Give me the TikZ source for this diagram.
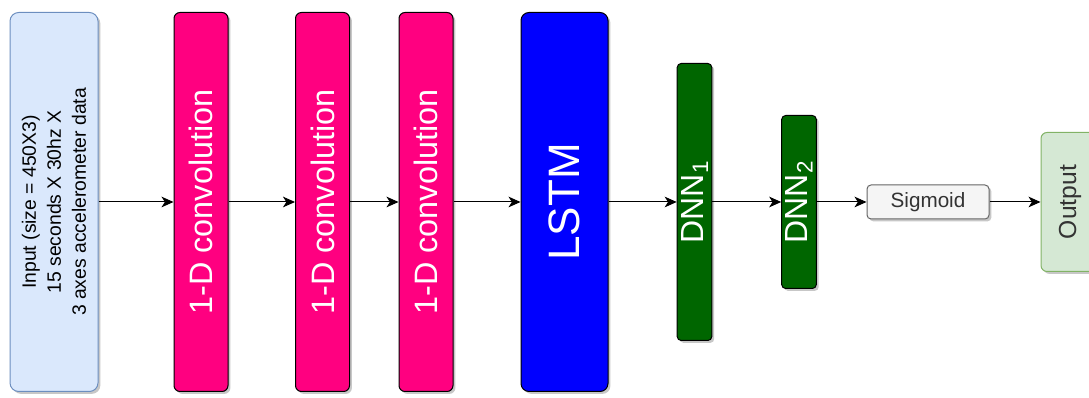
\documentclass[tikz,border=0pt]{standalone}
\usepackage{fontspec}
\setmainfont{Liberation Sans}
\usetikzlibrary{arrows.meta,shadows}

\tikzset{every picture/.style={line width=0.75pt}}

\definecolor{inputfill}{RGB}{218,232,252}
\definecolor{inputline}{RGB}{108,142,191}
\definecolor{convfill}{RGB}{255,0,128}
\definecolor{lstmfill}{RGB}{0,0,255}
\definecolor{dnnfill}{RGB}{0,102,0}
\definecolor{sigfill}{RGB}{245,245,245}
\definecolor{sigline}{RGB}{102,102,102}
\definecolor{outfill}{RGB}{213,232,212}
\definecolor{outline}{RGB}{130,179,102}
\definecolor{darktext}{RGB}{51,51,51}

\begin{document}
\begin{tikzpicture}[x=0.75pt,y=0.75pt,yscale=-1,xscale=1,
	shade/.style={drop shadow={shadow xshift=1.8pt,shadow yshift=-1.8pt,fill=black,opacity=0.22}},
	block/.style={rectangle,inner sep=0pt,align=center,shade},
	inputbox/.style={block,draw=inputline,fill=inputfill,rounded corners=6.5pt,minimum width=66pt,minimum height=284.25pt,font=\fontsize{14.5}{18.75}\selectfont},
	convbox/.style={block,draw=black,fill=convfill,text=white,rounded corners=4.5pt,minimum width=40.5pt,minimum height=284.25pt,font=\fontsize{24.3}{28}\selectfont},
	lstmbox/.style={block,draw=black,fill=lstmfill,text=white,rounded corners=6pt,minimum width=65.25pt,minimum height=284.25pt,font=\fontsize{33}{38}\selectfont},
	dnnbox/.style={block,draw=black,fill=dnnfill,text=white,rounded corners=3pt,minimum width=26pt,font=\fontsize{24}{28}\selectfont},
	sigbox/.style={block,draw=sigline,fill=sigfill,text=darktext,rounded corners=3pt,minimum width=91.5pt,minimum height=25.5pt,font=\fontsize{15.5}{18}\selectfont},
	outbox/.style={block,draw=outline,fill=outfill,text=darktext,rounded corners=4.5pt,minimum width=43.5pt,minimum height=104.25pt,font=\fontsize{18.5}{22}\selectfont},
	flow/.style={-{Stealth[length=9pt,width=8pt,inset=2.5pt]}}]
		\useasboundingbox (0,0) rectangle (1089,398);
		\clip (0,0) rectangle (1089,398);

		% layers
		\draw (54,202) node [inputbox] (inp) {\rotatebox{90}{\vbox{\halign{\hfil#\hfil\cr Input (size = 450X3)\cr 15 seconds X 30hz X\cr 3 axes accelerometer data\cr}}}};
		\draw (201,202) node [convbox] (convA) {\rotatebox{90}{1-D convolution}};
		\draw (322.5,202) node [convbox] (convB) {\rotatebox{90}{1-D convolution}};
		\draw (426,202) node [convbox] (convC) {\rotatebox{90}{1-D convolution}};
		\draw (564.5,202) node [lstmbox] (lstm) {\rotatebox{90}{LSTM}};
		\draw (694.5,202) node [dnnbox,minimum height=207.75pt] (dnnA) {\rotatebox{90}{DNN\textsubscript{1}}};
		\draw (799,202) node [dnnbox,minimum height=129.75pt] (dnnB) {\rotatebox{90}{DNN\textsubscript{2}}};
		\draw (928,202) node [sigbox] (sig) {Sigmoid};
		\draw (1070,202) node [outbox] (out) {\rotatebox{90}{Output}};

		% connectors
		\draw [flow] (inp) -- (convA) ;
		\draw [flow] (convA) -- (convB) ;
		\draw [flow] (convB) -- (convC) ;
		\draw [flow] (convC) -- (lstm) ;
		\draw [flow] (lstm) -- (dnnA) ;
		\draw [flow] (dnnA) -- (dnnB) ;
		\draw [flow] (dnnB) -- (sig) ;
		\draw [flow] (sig) -- (out) ;

\end{tikzpicture}
\end{document}
